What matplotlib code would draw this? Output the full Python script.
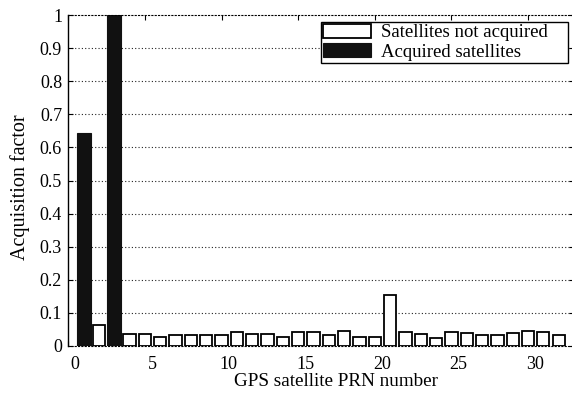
import matplotlib
matplotlib.use("Agg")
import matplotlib.pyplot as plt
import matplotlib.transforms as mtransforms

plt.rcParams["font.family"] = ["Liberation Serif", "DejaVu Serif"]

# Acquisition factor per GPS PRN
prn = list(range(1, 33))
acq_factor = [0.645, 0.062, 1.0, 0.035, 0.035, 0.028, 0.032, 0.032,
              0.032, 0.032, 0.043, 0.035, 0.035, 0.028, 0.042, 0.042,
              0.032, 0.046, 0.028, 0.028, 0.155, 0.042, 0.035, 0.025,
              0.043, 0.039, 0.032, 0.032, 0.039, 0.046, 0.042, 0.032]
acquired_prn = [1, 3]

x_ticks = [0, 5, 10, 15, 20, 25, 30]
y_ticks = [0, 0.1, 0.2, 0.3, 0.4, 0.5, 0.6, 0.7, 0.8, 0.9, 1]
y_tick_labels = ["0", "0.1", "0.2", "0.3", "0.4", "0.5", "0.6", "0.7", "0.8", "0.9", "1"]

not_x = [p for p in prn if p not in acquired_prn]
not_y = [acq_factor[p - 1] for p in not_x]
acq_x = [p for p in prn if p in acquired_prn]
acq_y = [acq_factor[p - 1] for p in acq_x]

fig = plt.figure(figsize=(5.72, 3.99), dpi=100)
ax = fig.add_axes([68.3 / 572, 1 - 346 / 399, (574 - 68.3) / 572, 331 / 399])

# horizontal dotted grid
for yv in y_ticks[1:-1]:
    ax.axhline(yv, color="#222222", lw=0.8, ls=(0, (1, 2)), zorder=0)

b_not = ax.bar(not_x, not_y, width=0.8, color="white", edgecolor="black",
               linewidth=1.3, zorder=2, label="Satellites not acquired")
b_acq = ax.bar(acq_x, acq_y, width=0.92, color="#111111", edgecolor="#111111",
               linewidth=0.8, zorder=2, label="Acquired satellites")

ax.set_xlim(0, 33)
ax.set_ylim(0, 1)
ax.set_xticks(x_ticks)
ax.set_yticks(y_ticks)
ax.set_yticklabels(y_tick_labels)

ax.tick_params(axis="both", direction="in", length=3.6, width=0.8,
               top=True, right=True, labelsize=13, colors="black")
ax.tick_params(axis="y", pad=4.5)
ax.tick_params(axis="x", pad=7)

# x tick labels sit slightly to the right of their ticks
offset = mtransforms.ScaledTranslation(0.07, 0, fig.dpi_scale_trans)
for lbl in ax.get_xticklabels():
    lbl.set_transform(lbl.get_transform() + offset)

ax.spines["left"].set_linewidth(1.0)
for side in ("top", "bottom"):
    ax.spines[side].set_linestyle((0, (1, 2)))
    ax.spines[side].set_linewidth(0.8)
ax.spines["right"].set_visible(False)

ax.set_xlabel("GPS satellite PRN number", fontsize=13.8)
ax.xaxis.set_label_coords(0.53, -0.082)
ax.set_ylabel("Acquisition factor", fontsize=14.5)
ax.yaxis.set_label_coords(-0.076, 0.48)

leg = ax.legend(handles=[b_not, b_acq], loc="upper left",
                bbox_to_anchor=(0.4997, 0.5, 0.488, 0.479), mode="expand",
                fontsize=13.5, frameon=True, fancybox=False, shadow=False,
                borderpad=0.12, labelspacing=0.1, handlelength=2.55,
                handleheight=0.72, handletextpad=0.55, borderaxespad=0)
leg.get_frame().set_edgecolor("black")
leg.get_frame().set_linewidth(1.0)
leg.get_frame().set_alpha(1)

fig.savefig("out.png", dpi=100)
